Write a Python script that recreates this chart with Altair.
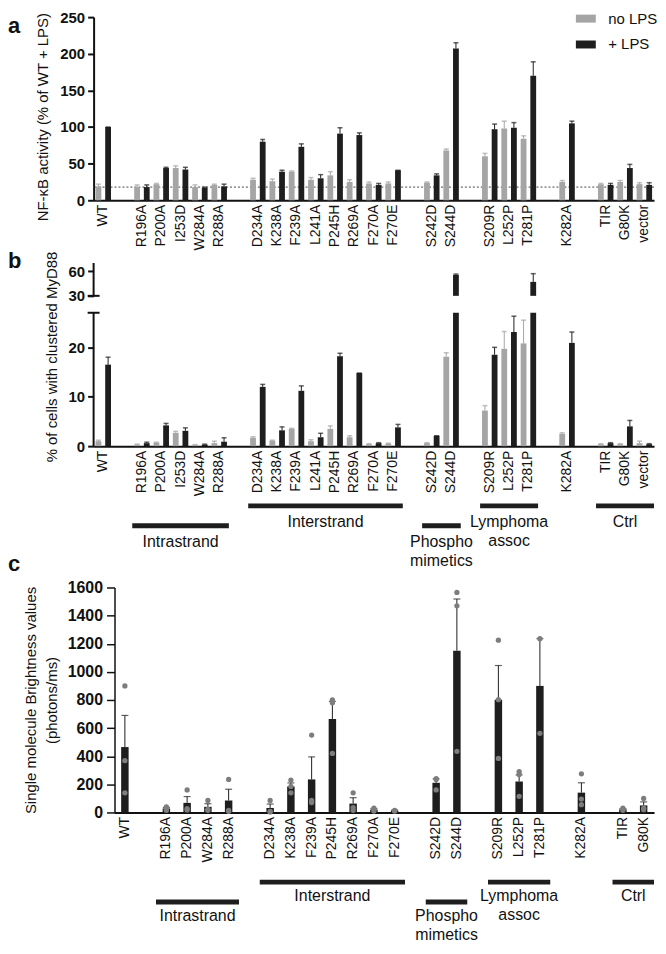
import altair as alt
import pandas as pd

FONT = "Liberation Sans"
GRAY = "#a5a5a5"
BLACK = "#1e1e1e"
DOT = "#7d7d7d"
INK = "#111111"

# ---------------- categories ----------------
cats_ab = ["WT", "_g1", "R196A", "P200A", "I253D", "W284A", "R288A", "_g2",
           "D234A", "K238A", "F239A", "L241A", "P245H", "R269A", "F270A", "F270E", "_g3",
           "S242D", "S244D", "_g4", "S209R", "L252P", "T281P", "_g5", "K282A", "_g6",
           "TIR", "G80K", "vector"]
mutants_ab = ["WT", "R196A", "P200A", "I253D", "W284A", "R288A", "D234A", "K238A",
              "F239A", "L241A", "P245H", "R269A", "F270A", "F270E", "S242D", "S244D",
              "S209R", "L252P", "T281P", "K282A", "TIR", "G80K", "vector"]
conds = ["no LPS", "+ LPS"]

# ---------------- panel a: NF-kB activity ----------------
a_nolps = [19, 18, 22, 44, 18, 21, 28, 26, 39, 28, 34, 25, 23, 23, 24, 68, 60, 98, 84, 25, 22, 25, 22]
a_nolps_err = [3, 3, 1, 3, 3, 1, 2, 3, 1, 3, 5, 3, 2, 2, 1, 2, 4, 10, 4, 2, 1, 2, 2]
a_lps = [100, 18, 44, 42, 17, 19, 80, 39, 73, 30, 91, 89, 21, 41, 34, 207, 97, 99, 170, 105, 21, 44, 21]
a_lps_err = [0, 3, 1, 3, 1, 3, 3, 2, 4, 5, 8, 3, 2, 0, 2, 8, 7, 7, 19, 3, 2, 5, 3]
a_dashed = [18]
a_ticks = [0, 50, 100, 150, 200, 250]

# ---------------- panel b: % cells with clustered MyD88 ----------------
b_nolps = [1.0, 0.3, 0.7, 2.7, 0.2, 0.6, 1.7, 1.1, 3.5, 1.0, 3.5, 1.8, 0.4, 0.5, 0.6, 18.1,
           7.2, 19.7, 20.8, 2.5, 0.4, 0.4, 0.6]
b_nolps_err = [0.2, 0.1, 0.1, 0.3, 0.1, 0.4, 0.2, 0.1, 0.1, 0.3, 0.6, 0.3, 0.1, 0.1, 0.1, 0.8,
               1.0, 3.5, 4.7, 0.2, 0.1, 0.1, 0.4]
b_lps = [16.5, 0.6, 4.2, 3.1, 0.3, 0.9, 12.0, 3.2, 11.2, 1.8, 18.2, 14.8, 0.6, 3.8, 2.1, 55.5,
         18.5, 23.1, 47.0, 20.9, 0.6, 4.0, 0.4]
b_lps_err = [1.5, 0.2, 0.4, 0.6, 0.1, 0.8, 0.5, 0.7, 1.0, 0.8, 0.6, 0.0, 0.1, 0.6, 0.0, 1.0,
             1.5, 3.2, 10.0, 2.2, 0.1, 1.2, 0.1]
b_domain = [0, 27, 30, 70]          # broken axis: 0-27 and 30-70
b_ticks = [0, 10, 20, 30, 60]
b_axis_segments = [[0, 27], [30, 70]]

groups = ["Intrastrand", "Interstrand", "Phospho\nmimetics", "Lymphoma\nassoc", "Ctrl"]
groups_b_start = ["R196A", "D234A", "S242D", "S209R", "TIR"]
groups_b_end = ["R288A", "F270E", "S244D", "T281P", "vector"]
groups_level = [2, 1, 2, 1, 1]

# ---------------- panel c: single molecule brightness ----------------
cats_c = ["WT", "_g1", "R196A", "P200A", "W284A", "R288A", "_g2",
          "D234A", "K238A", "F239A", "P245H", "R269A", "F270A", "F270E", "_g3",
          "S242D", "S244D", "_g4", "S209R", "L252P", "T281P", "_g5", "K282A", "_g6",
          "TIR", "G80K"]
mutants_c = ["WT", "R196A", "P200A", "W284A", "R288A", "D234A", "K238A", "F239A", "P245H",
             "R269A", "F270A", "F270E", "S242D", "S244D", "S209R", "L252P", "T281P", "K282A",
             "TIR", "G80K"]
c_mean = [465, 28, 68, 40, 85, 32, 185, 235, 665, 63, 20, 13, 211, 1150, 802, 220, 900, 141, 22, 50]
c_err = [225, 8, 45, 22, 80, 28, 25, 160, 125, 42, 8, 4, 28, 368, 243, 47, 336, 70, 6, 25]
c_dots = [[900, 368, 140], [40, 28, 15], [160, 28, 18], [85, 22, 15], [235, 15, 8],
          [85, 8, 3], [230, 185, 140], [550, 85, 70], [800, 780, 420], [140, 35, 15],
          [30, 20, 10], [15, 12, 10], [240, 235, 160], [1565, 1470, 435], [1225, 802, 384],
          [290, 270, 115], [1236, 563], [275, 95, 55], [30, 22, 15], [100, 30, 20]]
c_ticks = [0, 200, 400, 600, 800, 1000, 1200, 1400, 1600]
groups_c_start = ["R196A", "D234A", "S242D", "S209R", "TIR"]
groups_c_end = ["R288A", "F270E", "S244D", "T281P", "G80K"]

# ---------------- tables ----------------
def long_ab(nolps, nolps_err, lps, lps_err):
    rows = []
    for i, m in enumerate(mutants_ab):
        rows.append({"mutant": m, "cond": conds[0], "value": nolps[i], "err": nolps_err[i]})
        rows.append({"mutant": m, "cond": conds[1], "value": lps[i], "err": lps_err[i]})
    return pd.DataFrame(rows)

df_a = long_ab(a_nolps, a_nolps_err, a_lps, a_lps_err)
df_b = long_ab(b_nolps, b_nolps_err, b_lps, b_lps_err)
df_c = pd.DataFrame({"mutant": mutants_c, "mean": c_mean, "err": c_err})
df_dots = pd.DataFrame([{"mutant": m, "v": v} for m, vs in zip(mutants_c, c_dots) for v in vs])

def group_df(cats, starts, ends):
    rows = []
    for lab, s, e, lv in zip(groups, starts, ends, groups_level):
        i0, i1 = cats.index(s), cats.index(e)
        n = i1 - i0 + 1
        rows.append({"label": lab, "start": s, "end": e, "level": lv,
                     "mid": cats[i0 + (n - 1) // 2], "even": n % 2 == 0})
    return pd.DataFrame(rows)

gdf_b = group_df(cats_ab, groups_b_start, groups_b_end)
gdf_c = group_df(cats_c, groups_c_start, groups_c_end)

GAP_EXPR = "indexof(datum.label, '_g') == 0 ? '' : datum.label"
W = 563

X_AXIS = alt.Axis(title=None, labelAngle=-90, labelFontSize=14, ticks=False, domainWidth=2,
                  labelPadding=4, labelExpr=GAP_EXPR, labelFontWeight="normal")

def xscale_ab():
    return alt.Scale(domain=cats_ab, paddingInner=0, paddingOuter=0)

def xscale_c():
    return alt.Scale(domain=cats_c, range=[21, W], paddingInner=0, paddingOuter=0)

def x_ab():
    return alt.X("mutant:N", scale=xscale_ab(), axis=X_AXIS)

def xoff():
    return alt.XOffset("cond:N", scale=alt.Scale(domain=conds, paddingInner=0.4, paddingOuter=0.2))

err_color = alt.condition("datum.cond == 'no LPS'", alt.value(GRAY), alt.value(BLACK))

def letter(ch, y):
    return alt.Chart(pd.DataFrame({"t": [ch]})).mark_text(
        align="left", baseline="top", fontSize=22, fontWeight="bold", font=FONT, color=INK
    ).encode(text="t:N", x=alt.value(-86), y=alt.value(y))

# ---------------- panel a ----------------
ys_a = alt.Scale(domain=[0, 250], nice=False)
Y_A_AXIS = alt.Axis(values=a_ticks, title="NF-κB activity (% of WT + LPS)", tickSize=6, tickWidth=2,
                    domainWidth=2, labelFontSize=15, labelFontWeight="bold", labelPadding=3,
                    titleFontSize=15, titleFontWeight="normal", titlePadding=9, titleY=100)
def y_a(field):
    return alt.Y(field, scale=ys_a, axis=Y_A_AXIS)

color_a = alt.Color("cond:N", scale=alt.Scale(domain=conds, range=[GRAY, BLACK]),
                    legend=alt.Legend(title=None, orient="none", legendX=487, legendY=-6,
                                      symbolType="M-2,-0.8H2V0.8H-2Z", symbolSize=100,
                                      symbolStrokeWidth=0, labelFontSize=15, labelOffset=15,
                                      rowPadding=10, labelColor=INK))

a_bars = alt.Chart(df_a).mark_bar().encode(
    x=x_ab(), xOffset=xoff(), y=y_a("value:Q"), color=color_a)
a_err = alt.Chart(df_a).transform_calculate(top="datum.value + datum.err").mark_rule(strokeWidth=1).encode(
    x=x_ab(), xOffset=xoff(), y=y_a("value:Q"), y2="top:Q", color=err_color)
a_cap = alt.Chart(df_a).transform_calculate(top="datum.value + datum.err").mark_tick(size=5, thickness=1.5).encode(
    x=x_ab(), xOffset=xoff(), y=y_a("top:Q"), color=err_color)
a_dash = alt.Chart(pd.DataFrame({"lvl": a_dashed})).mark_rule(strokeDash=[2, 2], color="#444", strokeWidth=1).encode(
    y=y_a("lvl:Q"))

panel_a = alt.layer(a_dash, a_bars, a_err, a_cap, letter("a", -1)).properties(width=W, height=184)

# ---------------- panel b (broken axis) ----------------
B_H = 184
ys_b = alt.Scale(type="linear", domain=b_domain, range=[B_H, 50, 33, 0], zero=False, nice=False)
Y_B_AXIS = alt.Axis(values=b_ticks, domain=False, tickSize=6, tickWidth=2, labelFontSize=15,
                    labelFontWeight="bold", labelPadding=3, title="% of cells with clustered MyD88",
                    titleFontSize=15, titleFontWeight="normal", titlePadding=9, titleY=94)
def y_b(field):
    return alt.Y(field, scale=ys_b, axis=Y_B_AXIS)

bar_color = alt.condition("datum.cond == 'no LPS'", alt.value(GRAY), alt.value(BLACK))

b_low = alt.Chart(df_b).transform_calculate(lo=f"min(datum.value, {b_domain[1]})").mark_bar().encode(
    x=x_ab(), xOffset=xoff(), y=y_b("lo:Q"), y2=alt.datum(0), color=bar_color)
b_high = alt.Chart(df_b).transform_filter(f"datum.value > {b_domain[2]}").mark_bar().encode(
    x=x_ab(), xOffset=xoff(), y=y_b("value:Q"), y2=alt.datum(b_domain[2]), color=bar_color)
b_err = alt.Chart(df_b).transform_calculate(top="datum.value + datum.err").mark_rule(strokeWidth=1).encode(
    x=x_ab(), xOffset=xoff(), y=y_b("value:Q"), y2="top:Q", color=err_color)
b_cap = alt.Chart(df_b).transform_calculate(top="datum.value + datum.err").mark_tick(size=5, thickness=1.5).encode(
    x=x_ab(), xOffset=xoff(), y=y_b("top:Q"), color=err_color)
b_axisline = alt.Chart(pd.DataFrame(b_axis_segments, columns=["y0", "y1"])).mark_rule(
    strokeWidth=2, color=INK).encode(x=alt.value(0), y=y_b("y0:Q"), y2="y1:Q")
b_breaks = alt.Chart(pd.DataFrame({"lvl": [b_domain[1], b_domain[2]]})).mark_rule(
    strokeWidth=2, color=INK).encode(x=alt.value(-6), x2=alt.value(6), y=y_b("lvl:Q"))

panel_b = alt.layer(b_low, b_high, b_err, b_cap, b_axisline, b_breaks, letter("b", -12)).properties(
    width=W, height=B_H)

# ---------------- group annotations ----------------
def annotations(gdf, xs_fn, height, yrange, dy, extra=None):
    ys = alt.Y("level:Q", scale=alt.Scale(domain=[1, 2], range=yrange), axis=None)
    lines = alt.Chart(gdf).mark_rule(strokeWidth=5, color=BLACK).encode(
        x=alt.X("start:N", bandPosition=0, scale=xs_fn(), axis=None),
        x2=alt.X2("end:N", bandPosition=1), y=ys)
    txt = dict(align="center", baseline="top", fontSize=16, font=FONT, color=INK,
               lineBreak="\n", lineHeight=19, dy=dy)
    t_odd = alt.Chart(gdf).transform_filter("!datum.even").mark_text(**txt).encode(
        x=alt.X("mid:N", bandPosition=0.5, scale=xs_fn(), axis=None), y=ys, text="label:N")
    t_even = alt.Chart(gdf).transform_filter("datum.even").mark_text(**txt).encode(
        x=alt.X("mid:N", bandPosition=1, scale=xs_fn(), axis=None), y=ys, text="label:N")
    layers = [lines, t_odd, t_even] + ([extra] if extra is not None else [])
    return alt.layer(*layers).properties(width=W, height=height)

ann_b = annotations(gdf_b, xscale_ab, 84, [10, 30], 8, letter("c", 58))

# ---------------- panel c ----------------
ys_c = alt.Scale(domain=[0, 1600], nice=False)
Y_C_AXIS = alt.Axis(values=c_ticks, format="d", offset=-21, tickSize=8, tickWidth=1.5, domainWidth=1.5,
                    labelFontSize=16, labelFontWeight="bold", labelPadding=4,
                    title=["Single molecule Brightness values", "(photons/ms)"], titleFontSize=15,
                    titleFontWeight="normal", titlePadding=8, titleLineHeight=21)
def y_c(field):
    return alt.Y(field, scale=ys_c, axis=Y_C_AXIS)

def x_c():
    return alt.X("mutant:N", scale=xscale_c(), axis=X_AXIS)

c_bars = alt.Chart(df_c).mark_bar(size=7.5, color=BLACK).encode(x=x_c(), y=y_c("mean:Q"))
c_errs = alt.Chart(df_c).transform_calculate(top="datum.mean + datum.err").mark_rule(
    strokeWidth=1, color=BLACK).encode(x=x_c(), y=y_c("mean:Q"), y2="top:Q")
c_caps = alt.Chart(df_c).transform_calculate(top="datum.mean + datum.err").mark_tick(
    size=7, thickness=1.2, color=BLACK).encode(x=x_c(), y=y_c("top:Q"))
c_pts = alt.Chart(df_dots).mark_circle(size=28, color=DOT, opacity=1).encode(x=x_c(), y=y_c("v:Q"))

panel_c = alt.layer(c_bars, c_errs, c_caps, c_pts).properties(width=W, height=226)

ann_c = annotations(gdf_c, xscale_c, 46, [20, 40], 6)

chart = alt.vconcat(panel_a, panel_b, ann_b, panel_c, ann_c, spacing=0).resolve_scale(
    color="independent", xOffset="independent").resolve_legend(color="independent").properties(
    padding=0).configure(font=FONT).configure_view(stroke=None).configure_axis(
    grid=False, labelFont=FONT, titleFont=FONT, labelColor=INK, titleColor=INK,
    domainColor=INK, tickColor=INK).configure_legend(labelFont=FONT)

chart.save("out.html", embed_options={"renderer": "svg", "actions": False})
